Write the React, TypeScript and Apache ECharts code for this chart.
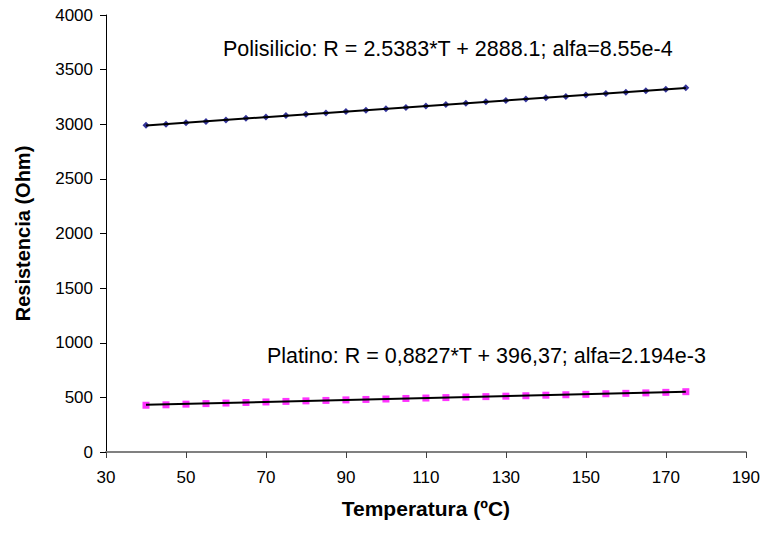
import React, { useEffect, useRef } from "react";
import * as echarts from "echarts";

const temps = [40, 45, 50, 55, 60, 65, 70, 75, 80, 85, 90, 95, 100, 105, 110, 115, 120, 125, 130, 135, 140, 145, 150, 155, 160, 165, 170, 175];
const poliValues = [2990, 3001, 3013, 3026, 3040, 3054, 3067, 3079, 3092, 3104, 3116, 3128, 3141, 3153, 3167, 3180, 3193, 3206, 3218, 3230, 3243, 3255, 3268, 3281, 3294, 3307, 3320, 3334];
const platValues = [428, 432, 438, 443, 448, 453, 458, 463, 468, 472, 477, 481, 485, 490, 494, 498, 503, 507, 511, 515, 520, 524, 528, 533, 537, 541, 546, 552];
const poliTrend = [[40, 2989.6], [175, 3332.3]];
const platTrend = [[40, 431.7], [175, 550.8]];
const poliLabel = "Polisilicio: R = 2.5383*T + 2888.1; alfa=8.55e-4";
const platLabel = "Platino: R = 0,8827*T + 396,37; alfa=2.194e-3";
const xTitle = "Temperatura (ºC)";
const yTitle = "Resistencia (Ohm)";

export default function App() {
  const ref = useRef<HTMLDivElement>(null);
  useEffect(() => {
    const chart = echarts.init(ref.current!, null, { renderer: "svg" });
    const font = "Liberation Sans, Arial, sans-serif";
    chart.setOption({
      animation: false,
      backgroundColor: "#ffffff",
      grid: { left: 106, right: 16, top: 15, bottom: 85 },
      xAxis: {
        type: "value",
        min: 30,
        max: 190,
        interval: 20,
        axisLine: { show: true, onZero: false, lineStyle: { color: "#808080", width: 2 } },
        axisTick: { show: true, inside: false, length: 6, lineStyle: { color: "#404040", width: 1 } },
        axisLabel: { color: "#000", fontFamily: font, fontSize: 17, margin: 17 },
        splitLine: { show: false },
        name: xTitle,
        nameLocation: "middle",
        nameGap: 46,
        nameTextStyle: { color: "#000", fontFamily: font, fontSize: 21, fontWeight: "bold" },
      },
      yAxis: {
        type: "value",
        min: 0,
        max: 4000,
        interval: 500,
        axisLine: { show: true, onZero: false, lineStyle: { color: "#000", width: 1 } },
        axisTick: { show: true, inside: false, length: 6, lineStyle: { color: "#000", width: 1 } },
        axisLabel: {
          color: "#000",
          fontFamily: font,
          fontSize: 17,
          margin: 13,
          formatter: (v: number) => String(v),
        },
        splitLine: { show: false },
        name: yTitle,
        nameLocation: "middle",
        nameGap: 73,
        nameTextStyle: { color: "#000", fontFamily: font, fontSize: 20, fontWeight: "bold" },
      },
      series: [
        {
          type: "line",
          data: poliTrend,
          showSymbol: false,
          symbol: "none",
          lineStyle: { color: "#000", width: 2 },
          z: 3,
        },
        {
          type: "line",
          data: platTrend,
          showSymbol: false,
          symbol: "none",
          lineStyle: { color: "#000", width: 2 },
          z: 3,
        },
        {
          type: "scatter",
          data: temps.map((t, i) => [t, poliValues[i]]),
          symbol: "diamond",
          symbolSize: 7,
          itemStyle: { color: "#000080" },
          z: 2,
        },
        {
          type: "scatter",
          data: temps.map((t, i) => [t, platValues[i]]),
          symbol: "rect",
          symbolSize: 7,
          itemStyle: { color: "#FF00FF" },
          z: 2,
        },
      ],
      graphic: [
        {
          type: "text",
          left: 223,
          top: 38,
          style: { text: poliLabel, fill: "#000", font: `21.5px ${font}` },
        },
        {
          type: "text",
          left: 267,
          top: 345,
          style: { text: platLabel, fill: "#000", font: `21.5px ${font}` },
        },
      ],
    });
    return () => chart.dispose();
  }, []);
  return <div ref={ref} style={{ width: 763, height: 537, position: "absolute", left: 0, top: 0 }} />;
}
